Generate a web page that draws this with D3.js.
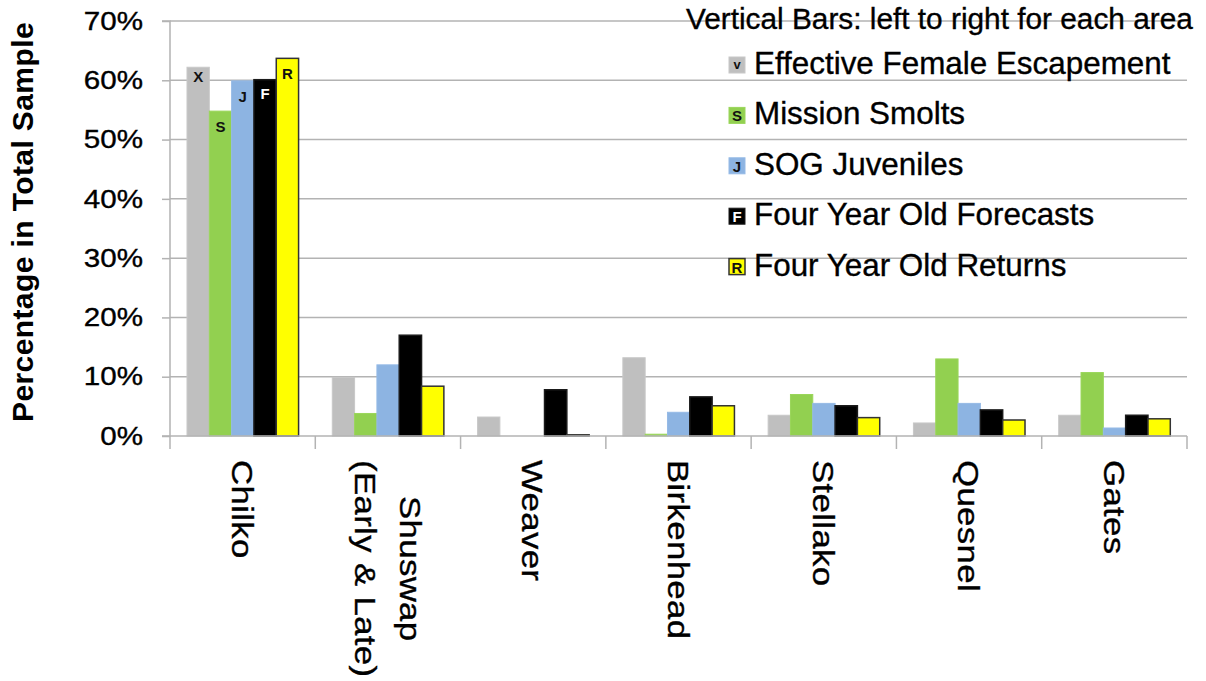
<!DOCTYPE html>
<html>
<head>
<meta charset="utf-8">
<script src="https://cdn.jsdelivr.net/npm/d3@7"></script>
<style>
  html, body { margin: 0; padding: 0; background: #fff; }
  svg { display: block; font-family: "Liberation Sans", Arial, sans-serif; }
</style>
</head>
<body>
<svg id="chart" width="1206" height="681"></svg>
<script>
// Sockeye stock areas (x) and share of total sample for each data source
const categories = ["Chilko", "Shuswap|(Early & Late)", "Weaver", "Birkenhead", "Stellako", "Quesnel", "Gates"];
const escapement = [62.2, 9.9, 3.2, 13.2, 3.5, 2.2, 3.5];
const smolts     = [54.8, 3.8, 0.0, 0.3, 7.0, 13.0, 10.7];
const juveniles  = [59.9, 12.0, 0.0, 4.0, 5.5, 5.5, 1.35];
const forecasts  = [60.1, 17.0, 7.8, 6.6, 5.1, 4.4, 3.5];
const returns    = [63.7, 8.4, 0.2, 5.1, 3.1, 2.7, 2.9];

const seriesNames  = ["Effective Female Escapement", "Mission Smolts", "SOG Juveniles", "Four Year Old Forecasts", "Four Year Old Returns"];
const seriesCodes  = ["X", "S", "J", "F", "R"];   // letters printed on the first group of bars
const legendCodes  = ["v", "S", "J", "F", "R"];   // letters printed in the legend swatches
const yTicks = [0, 10, 20, 30, 40, 50, 60, 70];
const legendTitle = "Vertical Bars: left to right for each area";
const yTitle = "Percentage in Total Sample";

const seriesValues = [escapement, smolts, juveniles, forecasts, returns];
const fills   = ["#bfbfbf", "#92d050", "#8db4e2", "#000000", "#ffff00"];
const strokes = ["#c8c8c8", "#9ad65a", "#95bae6", "#1a1a1a", "#333333"];
const codeColors = ["#111", "#111", "#111", "#fff", "#111"];

const svg = d3.select("#chart");
const plotLeft = 170, plotRight = 1187, plotTop = 21, plotBottom = 436;
const wide = 1.16;      // horizontal stretch used by the axis labels
const inkStroke = 0.35; // slight thickening of regular-weight text

const y = d3.scaleLinear().domain([0, 70]).range([plotBottom, plotTop]);
const x0 = d3.scaleBand().domain(d3.range(categories.length)).range([plotLeft, plotRight]).padding(0);
const bw = x0.bandwidth();
const x1 = d3.scaleBand().domain(d3.range(seriesNames.length)).range([bw * 0.117, bw * 0.885]).padding(0);

const gridColor = "#b3b3b3";

// horizontal gridlines
svg.append("g")
  .selectAll("line")
  .data(yTicks.filter(t => t > 0))
  .join("line")
  .attr("x1", plotLeft).attr("x2", plotRight)
  .attr("y1", d => y(d)).attr("y2", d => y(d))
  .attr("stroke", gridColor).attr("stroke-width", 1.5);

// bars
const groups = svg.append("g")
  .selectAll("g")
  .data(categories.map((c, i) => i))
  .join("g")
  .attr("transform", i => `translate(${x0(i)},0)`);

groups.selectAll("rect")
  .data(i => seriesValues.map((vals, s) => ({ s, v: vals[i] })).filter(d => d.v > 0))
  .join("rect")
  .attr("x", d => x1(d.s))
  .attr("width", x1.bandwidth())
  .attr("y", d => y(d.v))
  .attr("height", d => y(0) - y(d.v))
  .attr("fill", d => fills[d.s])
  .attr("stroke", d => strokes[d.s])
  .attr("stroke-width", d => d.s >= 3 ? 1.5 : 1);

// letter codes on the first (Chilko) group
const codeOffset = [9, 15, 16, 14, 15];
svg.append("g")
  .selectAll("text")
  .data(seriesValues.map((vals, s) => ({ s, v: vals[0] })))
  .join("text")
  .attr("x", d => x0(0) + x1(d.s) + x1.bandwidth() / 2)
  .attr("y", d => y(d.v) + codeOffset[d.s])
  .attr("text-anchor", "middle")
  .attr("dominant-baseline", "central")
  .attr("font-size", 15)
  .attr("font-weight", "bold")
  .attr("fill", d => codeColors[d.s])
  .text(d => seriesCodes[d.s]);

// y axis
const yAxis = d3.axisLeft(y).tickValues(yTicks).tickSize(8).tickPadding(0)
  .tickFormat(d => d + "%");
const gy = svg.append("g").attr("transform", `translate(${plotLeft},0)`).call(yAxis);
gy.select(".domain").attr("stroke", gridColor).attr("stroke-width", 1.5)
  .attr("d", `M-8,${plotTop}H0V${plotBottom}H-8`);
gy.selectAll(".tick line").attr("stroke", gridColor).attr("stroke-width", 1.5);
gy.selectAll(".tick text")
  .attr("x", 0)
  .attr("transform", `translate(-27,0) scale(${wide},1)`)
  .attr("font-size", 25.5)
  .attr("fill", "#000")
  .attr("stroke", "#000").attr("stroke-width", inkStroke)
  .attr("font-family", "Liberation Sans, Arial, sans-serif");

// x axis: baseline with ticks at category boundaries
const bounds = d3.range(categories.length + 1).map(i => plotLeft + i * bw);
svg.append("line")
  .attr("x1", plotLeft).attr("x2", plotRight).attr("y1", plotBottom).attr("y2", plotBottom)
  .attr("stroke", gridColor).attr("stroke-width", 1.5);
svg.append("g").selectAll("line")
  .data(bounds)
  .join("line")
  .attr("x1", d => d).attr("x2", d => d)
  .attr("y1", plotBottom).attr("y2", plotBottom + 13)
  .attr("stroke", gridColor).attr("stroke-width", 1.5);

// rotated category labels; lines of one label are centred on each other
const catG = svg.append("g").selectAll("g")
  .data(categories)
  .join("g")
  .attr("transform", (d, i) => `translate(${x0(i) + bw / 2},460) rotate(90) scale(${wide},1)`);
catG.each(function (d) {
  const lines = d.split("|");
  const g = d3.select(this);
  const step = 45;
  const texts = lines.map((ln, k) => g.append("text")
      .attr("y", (k - (lines.length - 1) / 2) * step)
      .attr("dy", "0.36em")
      .attr("font-size", 30)
      .attr("letter-spacing", 0.3)
      .attr("fill", "#000")
      .attr("stroke", "#000").attr("stroke-width", inkStroke)
      .text(ln));
  const lens = texts.map(t => t.node().getComputedTextLength());
  const maxLen = d3.max(lens);
  texts.forEach((t, k) => t.attr("x", (maxLen - lens[k]) / 2));
});

// y axis title
svg.append("text")
  .attr("transform", `translate(33,222) rotate(-90)`)
  .attr("text-anchor", "middle")
  .attr("font-size", 30)
  .attr("font-weight", "bold")
  .attr("letter-spacing", 0.4)
  .attr("fill", "#000")
  .text(yTitle);

// legend
svg.append("text")
  .attr("x", 686).attr("y", 28.5)
  .attr("font-size", 29.8)
  .attr("fill", "#000")
  .attr("stroke", "#000").attr("stroke-width", inkStroke)
  .text(legendTitle);

const leg = svg.append("g").selectAll("g")
  .data(seriesNames)
  .join("g")
  .attr("transform", (d, i) => `translate(729,${74 + i * 50.4})`);
leg.append("rect")
  .attr("x", 0).attr("y", -17).attr("width", 16).attr("height", 16)
  .attr("fill", (d, i) => fills[i])
  .attr("stroke", (d, i) => i === 4 ? "#333" : strokes[i])
  .attr("stroke-width", (d, i) => i === 4 ? 1.5 : 1);
leg.append("text")
  .attr("x", 8).attr("y", (d, i) => i === 0 ? -10 : -8.5)
  .attr("text-anchor", "middle")
  .attr("dominant-baseline", "central")
  .attr("font-size", (d, i) => i === 0 ? 13 : 15)
  .attr("font-weight", "bold")
  .attr("fill", (d, i) => codeColors[i])
  .text((d, i) => legendCodes[i]);
leg.append("text")
  .attr("x", 25).attr("y", 0)
  .attr("font-size", 31.4)
  .attr("fill", "#000")
  .attr("stroke", "#000").attr("stroke-width", inkStroke)
  .text(d => d);
</script>
</body>
</html>
